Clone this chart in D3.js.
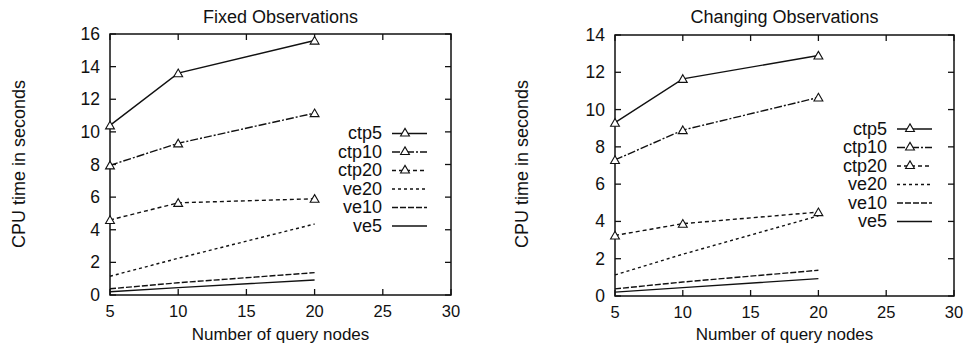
<!DOCTYPE html>
<html>
<head>
<meta charset="utf-8">
<script src="https://cdn.jsdelivr.net/npm/d3@7"></script>
<style>
  body { margin: 0; background: #fff; }
  svg text { font-family: "Liberation Sans", Arial, sans-serif; fill: #111; }
</style>
</head>
<body>
<svg id="chart" width="970" height="347"></svg>
<script>
  // ─── data ───
  const queryNodes = [5, 10, 20];
  const seriesNames = ['ctp5', 'ctp10', 'ctp20', 've20', 've10', 've5'];
  const xTicks = [5, 10, 15, 20, 25, 30];

  // Fixed Observations
  const fixedCtp5 = [10.4, 13.6, 15.6];
  const fixedCtp10 = [7.95, 9.3, 11.15];
  const fixedCtp20 = [4.6, 5.65, 5.9];
  const fixedVe20 = [1.15, 2.25, 4.35];
  const fixedVe10 = [0.38, 0.75, 1.37];
  const fixedVe5 = [0.2, 0.45, 0.92];
  const fixedYTicks = [0, 2, 4, 6, 8, 10, 12, 14, 16];

  // Changing Observations
  const changeCtp5 = [9.3, 11.65, 12.9];
  const changeCtp10 = [7.3, 8.9, 10.65];
  const changeCtp20 = [3.25, 3.88, 4.5];
  const changeVe20 = [1.13, 2.24, 4.3];
  const changeVe10 = [0.38, 0.75, 1.38];
  const changeVe5 = [0.21, 0.45, 0.93];
  const changeYTicks = [0, 2, 4, 6, 8, 10, 12, 14];

  const dashes = { ctp5: null, ctp10: '8,2,2,2', ctp20: '4,3', ve20: '3,3', ve10: '6,2', ve5: null };
  const hasMarker = { ctp5: true, ctp10: true, ctp20: true, ve20: false, ve10: false, ve5: false };

  const svg = d3.select('#chart');

  function drawPanel(opt) {
    const x = d3.scaleLinear().domain([5, 30]).range([opt.left, opt.right]);
    const y = d3.scaleLinear().domain([0, d3.max(opt.yTicks)]).range([opt.bottom, opt.top]);
    const g = svg.append('g');

    // frame
    g.append('rect')
      .attr('x', opt.left).attr('y', opt.top)
      .attr('width', opt.right - opt.left).attr('height', opt.bottom - opt.top)
      .attr('fill', 'none').attr('stroke', '#111').attr('stroke-width', 1.5);

    // ticks, mirrored inside the frame
    const tl = 6;
    xTicks.forEach(t => {
      g.append('line').attr('x1', x(t)).attr('x2', x(t)).attr('y1', opt.bottom).attr('y2', opt.bottom - tl)
        .attr('stroke', '#111').attr('stroke-width', 1.3);
      g.append('line').attr('x1', x(t)).attr('x2', x(t)).attr('y1', opt.top).attr('y2', opt.top + tl)
        .attr('stroke', '#111').attr('stroke-width', 1.3);
      g.append('text').attr('x', x(t)).attr('y', opt.bottom + 22)
        .attr('text-anchor', 'middle').attr('font-size', 16.5).text(t);
    });
    opt.yTicks.forEach(t => {
      g.append('line').attr('x1', opt.left).attr('x2', opt.left + tl).attr('y1', y(t)).attr('y2', y(t))
        .attr('stroke', '#111').attr('stroke-width', 1.3);
      g.append('line').attr('x1', opt.right).attr('x2', opt.right - tl).attr('y1', y(t)).attr('y2', y(t))
        .attr('stroke', '#111').attr('stroke-width', 1.3);
      g.append('text').attr('x', opt.left - 10).attr('y', y(t) + 6)
        .attr('text-anchor', 'end').attr('font-size', 17.5).text(t);
    });

    // titles
    g.append('text').attr('x', (opt.left + opt.right) / 2).attr('y', 23)
      .attr('text-anchor', 'middle').attr('font-size', 18).text(opt.title);
    g.append('text').attr('x', (opt.left + opt.right) / 2).attr('y', 340)
      .attr('text-anchor', 'middle').attr('font-size', 17).text('Number of query nodes');
    g.append('text')
      .attr('transform', `translate(${opt.yLabelX},164) rotate(-90)`)
      .attr('text-anchor', 'middle').attr('font-size', 18).text('CPU time in seconds');

    const line = d3.line().x((d, i) => x(queryNodes[i])).y(d => y(d));
    const tri = d3.symbol().type(d3.symbolTriangle).size(34);

    seriesNames.forEach((name, k) => {
      const vals = opt.series[k];
      g.append('path').datum(vals).attr('d', line)
        .attr('fill', 'none').attr('stroke', '#111').attr('stroke-width', 1.4)
        .attr('stroke-dasharray', dashes[name]);
      if (hasMarker[name]) {
        g.selectAll(null).data(vals).enter().append('path')
          .attr('d', tri)
          .attr('transform', (d, i) => `translate(${x(queryNodes[i])},${y(d) + 1})`)
          .attr('fill', '#fff').attr('stroke', '#111').attr('stroke-width', 1.1);
      }

      // legend
      const ly = opt.legendTop + k * 18.5;
      g.append('text').attr('x', opt.legendX).attr('y', ly + 5.5)
        .attr('text-anchor', 'end').attr('font-size', 18).text(name);
      g.append('line').attr('x1', opt.legendX + 10).attr('x2', opt.legendX + 45)
        .attr('y1', ly).attr('y2', ly)
        .attr('stroke', '#111').attr('stroke-width', 1.4)
        .attr('stroke-dasharray', dashes[name]);
      if (hasMarker[name]) {
        g.append('path').attr('d', tri)
          .attr('transform', `translate(${opt.legendX + 23},${ly})`)
          .attr('fill', '#fff').attr('stroke', '#111').attr('stroke-width', 1.1);
      }
    });
  }

  drawPanel({
    title: 'Fixed Observations',
    left: 110, right: 451, top: 34, bottom: 295,
    yTicks: fixedYTicks, yLabelX: 25,
    legendX: 382, legendTop: 133.5,
    series: [fixedCtp5, fixedCtp10, fixedCtp20, fixedVe20, fixedVe10, fixedVe5]
  });

  drawPanel({
    title: 'Changing Observations',
    left: 615, right: 954, top: 35, bottom: 296,
    yTicks: changeYTicks, yLabelX: 528,
    legendX: 887, legendTop: 129,
    series: [changeCtp5, changeCtp10, changeCtp20, changeVe20, changeVe10, changeVe5]
  });
</script>
</body>
</html>
